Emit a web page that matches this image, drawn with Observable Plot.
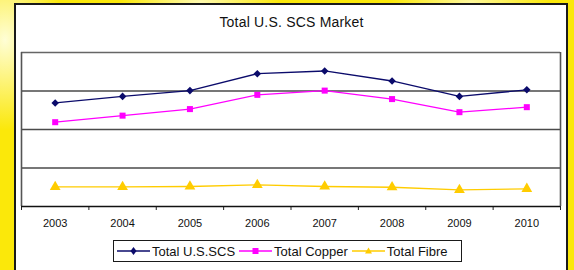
<!DOCTYPE html>
<html>
<head>
<meta charset="utf-8">
<script src="https://cdn.jsdelivr.net/npm/d3@7"></script>
<script src="https://cdn.jsdelivr.net/npm/@observablehq/plot@0.6"></script>
<style>
  html, body { margin: 0; padding: 0; }
  body {
    width: 574px; height: 270px; overflow: hidden; position: relative;
    font-family: "Liberation Sans", Arial, sans-serif;
    background:
      radial-gradient(ellipse 60px 90px at 5px 40px, rgba(255,255,225,0.95), rgba(255,255,200,0) 100%),
      radial-gradient(ellipse 80px 20px at 200px 2px, rgba(255,255,220,0.8), rgba(255,255,200,0) 100%),
      radial-gradient(ellipse 80px 20px at 470px 2px, rgba(255,255,220,0.7), rgba(255,255,200,0) 100%),
      #fbe80a;
  }
  #panel {
    position: absolute; left: 14px; top: 3px; width: 550px; height: 275px;
    background: #fff; border: 2px solid #1a1a1a;
  }
  #title {
    position: absolute; left: 0; top: 14px; width: 583px; text-align: center;
    font-size: 14px; line-height: 16px; color: #111; letter-spacing: 0.2px;
  }
  #chart { position: absolute; left: 0; top: 0; }
  #legend {
    position: absolute; left: 113px; top: 240px; width: 347px; height: 20px;
    border: 1px solid #1a1a1a; background: #fff;
    display: flex; align-items: center; font-size: 13px; color: #111;
  }
  #legend .item { display: flex; align-items: center; white-space: nowrap; }
  #legend svg { display: block; }
</style>
</head>
<body>
<div id="panel"></div>
<div id="chart"></div>
<div id="title">Total U.S. SCS Market</div>
<div id="legend"></div>
<script>
const years = [2003, 2004, 2005, 2006, 2007, 2008, 2009, 2010];
const yearLabels = ["2003", "2004", "2005", "2006", "2007", "2008", "2009", "2010"];
const totalSCS = [2.69, 2.86, 3.01, 3.45, 3.52, 3.26, 2.86, 3.03];
const totalCopper = [2.19, 2.36, 2.53, 2.90, 3.01, 2.79, 2.45, 2.58];
const totalFibre = [0.51, 0.51, 0.52, 0.56, 0.52, 0.50, 0.43, 0.46];
const seriesNames = ["Total U.S.SCS", "Total Copper", "Total Fibre"];
const gridValues = [0, 1, 2, 3, 4];

const colors = ["#0b0b6b", "#ff00ff", "#ffcc00"];
const symbols = ["diamond2", "square", "triangle"];
const sizes = [3.4, 3.4, 4];

const seriesData = [totalSCS, totalCopper, totalFibre].map((vals, i) =>
  years.map((y, j) => ({year: y, value: vals[j], series: seriesNames[i]}))
);
const boundaries = years.map(y => y - 0.5).concat([years[years.length - 1] + 0.5]);

const marks = [
  Plot.ruleY(gridValues.slice(1, -1), {stroke: "#4a4a4a", strokeWidth: 1.6}),
  Plot.ruleY([gridValues[gridValues.length - 1]], {stroke: "#666", strokeWidth: 1.6}),
  Plot.ruleX([boundaries[0], boundaries[boundaries.length - 1]], {stroke: "#555", strokeWidth: 1.6}),
  Plot.axisX(boundaries, {tickSize: 4, tickFormat: () => "", stroke: "#222", label: null}),
  Plot.axisX(years, {tickSize: 0, tickPadding: 13, tickFormat: (d, i) => yearLabels[i], fontSize: 11, fill: "#111", label: null}),
  Plot.ruleY([gridValues[0]], {stroke: "#111", strokeWidth: 1.6}),
];
seriesData.forEach((data, i) => {
  marks.push(Plot.line(data, {x: "year", y: "value", stroke: colors[i], strokeWidth: 1.3}));
  marks.push(Plot.dot(data, {x: "year", y: "value", symbol: () => symbols[i], fill: colors[i], stroke: "none", r: sizes[i]}));
});

const chart = Plot.plot({
  width: 574,
  height: 232,
  marginTop: 52,
  marginBottom: 26,
  marginLeft: 21,
  marginRight: 14,
  style: {background: "transparent", fontFamily: "'Liberation Sans', Arial, sans-serif", overflow: "visible"},
  x: {domain: [boundaries[0], boundaries[boundaries.length - 1]], axis: null, label: null},
  y: {domain: [gridValues[0], gridValues[gridValues.length - 1]], axis: null, label: null},
  marks
});
document.getElementById("chart").appendChild(chart);

// Legend
const legend = document.getElementById("legend");
const symbolPath = {
  diamond2: "M0,-4L3,0L0,4L-3,0Z",
  square: "M-3,-3H3V3H-3Z",
  triangle: "M0,-3.5L3.5,2.5H-3.5Z"
};
seriesNames.forEach((name, i) => {
  const item = document.createElement("div");
  item.className = "item";
  item.style.marginLeft = i === 0 ? "3px" : "4px";
  const w = 33;
  item.innerHTML = `<svg width="${w}" height="12" viewBox="0 -6 ${w} 12">
    <line x1="0" x2="${w}" y1="0" y2="0" stroke="${colors[i]}" stroke-width="1.3"/>
    <path transform="translate(${w/2},0)" d="${symbolPath[symbols[i]]}" fill="${colors[i]}"/>
  </svg><span style="margin-left:2px">${name}</span>`;
  legend.appendChild(item);
});
</script>
</body>
</html>
